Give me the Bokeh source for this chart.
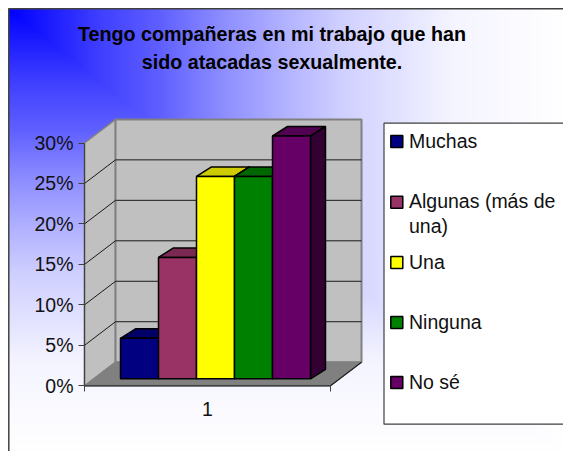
import numpy as np
from bokeh.embed import file_html
from bokeh.resources import INLINE
from bokeh.plotting import figure
from bokeh.models import Range1d, LinearAxis, FixedTicker, PrintfTickFormatter
from bokeh.core.properties import value

# ---- data
categories = ["Muchas", "Algunas (más de\nuna)", "Una", "Ninguna", "No sé"]
values = [5, 15, 25, 25, 30]
tick_values = [0, 5, 10, 15, 20, 25, 30]
group_label = "1"
title_lines = ["Tengo compañeras en mi trabajo que han", "sido atacadas sexualmente."]

front_colors = ["#000080", "#993366", "#ffff00", "#008000", "#660066"]
top_colors = ["#000066", "#7a2952", "#cccc00", "#006600", "#520052"]
side_colors = ["#000040", "#4d1a33", "#808000", "#004000", "#330033"]

# ---- layout in page pixels
W, H = 563, 451
CHART = 8
AX_L, AX_R = 84.0, 330.0
Y0, Y30 = 385.3, 142.5
PX_PER_PCT = (Y0 - Y30) / 30.0
PX_PER_X = AX_R - AX_L


def dx(px):
    return px / PX_PER_X


def dy(px):
    return px / PX_PER_PCT


def X(page_x):
    return (page_x - AX_L) / PX_PER_X


def Y(page_y):
    return (Y0 - page_y) / PX_PER_PCT


FONT = "Liberation Sans"
p = figure(width=W, height=H, output_backend="svg", toolbar_location=None,
           x_range=Range1d(X(0), X(W)), y_range=Range1d(Y(H), Y(0)),
           x_axis_location=None, y_axis_location=None, min_border=0,
           tools="", outline_line_color=None, background_fill_color=None, border_fill_color=None)
p.grid.visible = False

# ---- gradient background
GW, GH = W - CHART, H - CHART
col_x = (np.arange(GW) + 0.5) / GW
col_y = (np.arange(GH) + 0.5) / GH
tx, ty = np.meshgrid(col_x, col_y)
t = np.maximum(tx, ty)
f = np.interp(t, [0, .166, .274, .382, .49, .6, .70, .8, 1], [0, .25, .376, .55, .69, .816, .886, .96, 1])
chan = (255 * f).astype(np.uint32)
img = (255 << 24 | 255 << 16 | chan << 8 | chan).astype(np.uint32)
img = img[::-1]
p.image_rgba(image=[img], x=X(CHART), y=Y(H), dw=GW / PX_PER_X, dh=GH / PX_PER_PCT)

# frame lines (top and left only reach the picture)
p.multi_line([[X(CHART + .3), X(CHART + .3)], [X(CHART), X(W)]],
             [[Y(CHART), Y(H)], [Y(CHART + .3), Y(CHART + .3)]],
             line_color="#404040", line_width=1.5)

# ---- 3D walls
DX, DY = dx(31), dy(23.6)
y_top = tick_values[-1]
p.patch([0, DX, DX, 0], [y_top, y_top + DY, DY, 0], fill_color="#c0c0c0", line_color="#808080", line_width=1.5)
p.patch([DX, 1 + DX, 1 + DX, DX], [y_top + DY, y_top + DY, DY, DY], fill_color="#c0c0c0", line_color="#808080", line_width=2)
p.patch([0, 1, 1 + DX, DX], [0, 0, DY, DY], fill_color="#808080", line_color="#808080", line_width=1)
p.line([0, 1, 1 + DX], [0, 0, DY], line_color="#202020", line_width=1.2)

grid = tick_values[1:-1]
p.multi_line([[0, DX, 1 + DX] for _ in grid], [[v, v + DY, v + DY] for v in grid],
             line_color="#1a1a1a", line_width=1)

# ---- bars
BAR_W = dx(38.0)
BAR0 = X(120)
BASE = dy(7.0)
BDX, BDY = dx(15), dy(9.5)
for i, v in enumerate(values):
    a, b = BAR0 + i * BAR_W, BAR0 + (i + 1) * BAR_W
    top = BASE + v
    p.patch([a, a + BDX, b + BDX, b], [top, top + BDY, top + BDY, top],
            fill_color=top_colors[i], line_color="black", line_width=1.5)
    p.patch([b, b + BDX, b + BDX, b], [BASE, BASE + BDY, top + BDY, top],
            fill_color=side_colors[i], line_color="black", line_width=1.5)
    p.patch([a, b, b, a], [BASE, BASE, top, top],
            fill_color=front_colors[i], line_color="black", line_width=1.5)

# ---- axes
yaxis = LinearAxis(fixed_location=0, bounds=(0, 30),
                   ticker=FixedTicker(ticks=tick_values),
                   formatter=PrintfTickFormatter(format="%d%%"),
                   axis_line_color="#404040", axis_line_width=1.2,
                   major_tick_line_color="#404040", major_tick_in=0, major_tick_out=6,
                   minor_tick_line_color=None,
                   major_label_standoff=5,
                   major_label_text_font=FONT, major_label_text_font_size="19.5px",
                   major_label_text_color="#111111")
p.add_layout(yaxis, "left")
xaxis = LinearAxis(fixed_location=0, bounds=(0, 1),
                   ticker=FixedTicker(ticks=[0.5], minor_ticks=[0, 1]),
                   major_label_overrides={0.5: group_label},
                   axis_line_color="#404040", axis_line_width=1.2,
                   major_tick_line_color=None, major_tick_in=0, major_tick_out=0,
                   minor_tick_line_color="#404040", minor_tick_in=0, minor_tick_out=6,
                   major_label_standoff=10,
                   major_label_text_font=FONT, major_label_text_font_size="19.5px",
                   major_label_text_color="#111111")
p.add_layout(xaxis, "below")

# ---- title
p.text(x=[X(271.5)] * 2, y=[Y(33.8), Y(61.8)], text=title_lines,
       text_font=value(FONT), text_font_style="bold", text_font_size="19.7px",
       text_color="black", text_align="center", text_baseline="middle")

# ---- legend
p.quad(left=[X(383.5)], right=[X(W + 5)], top=[Y(122.7)], bottom=[Y(423.7)],
       fill_color="white", line_color="#404040", line_width=1.2)
legend_rows = [140.5, 200.7, 261, 321, 381]
swatch_rows = [141, 201.7, 262, 322, 382]
for i, name in enumerate(categories):
    sy = swatch_rows[i]
    p.quad(left=[X(390.3)], right=[X(402.3)], top=[Y(sy - 6)], bottom=[Y(sy + 6)],
           fill_color=front_colors[i], line_color="black", line_width=1.5)
    for j, part in enumerate(name.split("\n")):
        p.text(x=[X(408.5)], y=[Y(legend_rows[i] + j * 25)], text=[part], text_font=value(FONT),
               text_font_size="19.5px", text_color="#111111", text_align="left", text_baseline="middle")

open("out.html", "w").write(file_html(p, INLINE))
